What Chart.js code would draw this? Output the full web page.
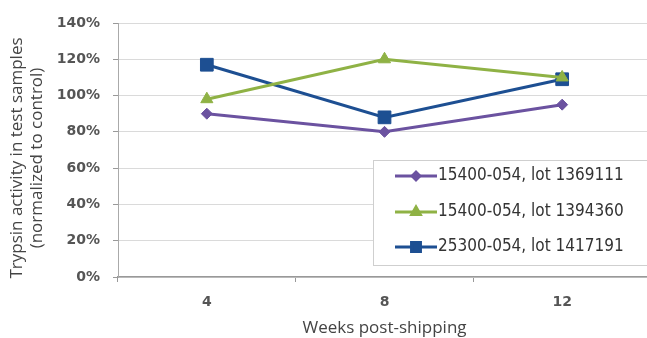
<!DOCTYPE html>
<html>
<head>
<meta charset="utf-8">
<script src="https://cdn.jsdelivr.net/npm/chart.js@4/dist/chart.umd.min.js"></script>
<style>
  html, body { margin: 0; padding: 0; background: #fff; overflow: hidden; }
  #wrap { position: absolute; left: 0; top: 0; width: 651px; height: 338px; }
</style>
</head>
<body>
<div id="wrap"><canvas id="c" width="651" height="338"></canvas></div>
<script>
// Weeks after shipping
const weeks = ['4', '8', '12'];

// Trypsin activity, % of control
const lot1369111 = [90, 80, 95];
const lot1394360 = [98, 120, 110];
const lot1417191 = [117, 88, 109];

const seriesLabels = ['15400-054, lot 1369111', '15400-054, lot 1394360', '25300-054, lot 1417191'];

const yTitleLines = ['Trypsin activity in test samples', '(normalized to control)'];
const xTitle = 'Weeks post-shipping';

const PURPLE = '#6b52a0';
const GREEN = '#8fb245';
const BLUE = '#1d4f92';

const TICK_FONT = { size: 14, weight: 'bold', family: '"DejaVu Sans"' };

// Rotated two-line y-axis title and the boxed legend inside the plot
const decorations = {
  id: 'decorations',
  afterDraw(chart) {
    const ctx = chart.ctx;
    ctx.save();
    ctx.fillStyle = '#444';
    ctx.font = '17px "Open Sans"';
    ctx.textAlign = 'center';
    ctx.textBaseline = 'middle';
    ctx.translate(17, 158);
    ctx.rotate(-Math.PI / 2);
    yTitleLines.forEach((t, i) => ctx.fillText(t, 0, i * 20));
    ctx.restore();

    // legend box
    const bx = 373, by = 160, bw = 290, bh = 105;
    ctx.save();
    ctx.fillStyle = '#fff';
    ctx.fillRect(bx, by, bw, bh);
    ctx.strokeStyle = '#cfcfcf';
    ctx.lineWidth = 1;
    ctx.strokeRect(bx + 0.5, by + 0.5, bw, bh);
    const rows = [176, 212, 247];
    chart.data.datasets.forEach((ds, i) => {
      const y = rows[i];
      ctx.strokeStyle = ds.borderColor;
      ctx.lineWidth = 3;
      ctx.beginPath();
      ctx.moveTo(395, y);
      ctx.lineTo(437, y);
      ctx.stroke();
      ctx.fillStyle = ds.borderColor;
      ctx.strokeStyle = ds.borderColor;
      Chart.helpers.drawPoint(ctx, {
        pointStyle: ds.pointStyle,
        radius: ds.pointRadius * 0.7,
        rotation: 0,
        borderWidth: 1
      }, 416, y);
      ctx.fillStyle = '#333';
      ctx.font = '17px "DejaVu Sans Condensed"';
      ctx.textAlign = 'left';
      ctx.textBaseline = 'middle';
      ctx.fillText(ds.label, 438, y);
    });
    ctx.restore();
  }
};

new Chart(document.getElementById('c'), {
  type: 'line',
  data: {
    labels: weeks,
    datasets: [
      { label: seriesLabels[0], data: lot1369111, borderColor: PURPLE, backgroundColor: PURPLE,
        pointStyle: 'rectRot', pointRadius: 5.5 },
      { label: seriesLabels[1], data: lot1394360, borderColor: GREEN, backgroundColor: GREEN,
        pointStyle: 'triangle', pointRadius: 7 },
      { label: seriesLabels[2], data: lot1417191, borderColor: BLUE, backgroundColor: BLUE,
        pointStyle: 'rect', pointRadius: 9 }
    ]
  },
  options: {
    responsive: false,
    animation: false,
    devicePixelRatio: 1,
    layout: { autoPadding: false, padding: { top: 23, right: 0, left: 0, bottom: 0 } },
    elements: {
      line: { borderWidth: 3, tension: 0 },
      point: { borderWidth: 1 }
    },
    plugins: {
      legend: { display: false },
      tooltip: { enabled: false }
    },
    scales: {
      x: {
        offset: true,
        grid: { offset: true, drawOnChartArea: false, drawTicks: true, tickLength: 5, color: '#999' },
        border: { color: '#999', width: 1.5 },
        ticks: { color: '#555', font: TICK_FONT, padding: 12 },
        title: { display: true, text: xTitle, color: '#444', font: { size: 17, family: '"Open Sans"' }, padding: { top: 0, bottom: 0 } },
        afterFit(s) { s.height = 61; }
      },
      y: {
        min: 0,
        max: 140,
        ticks: { stepSize: 20, color: '#555', font: TICK_FONT, padding: 13,
                 callback: v => v + '%' },
        grid: { color: '#dadada', tickColor: '#999', tickLength: 5 },
        border: { color: '#aaa', width: 1 },
        afterFit(s) { s.width = 118; }
      }
    }
  },
  plugins: [decorations]
});
</script>
</body>
</html>
